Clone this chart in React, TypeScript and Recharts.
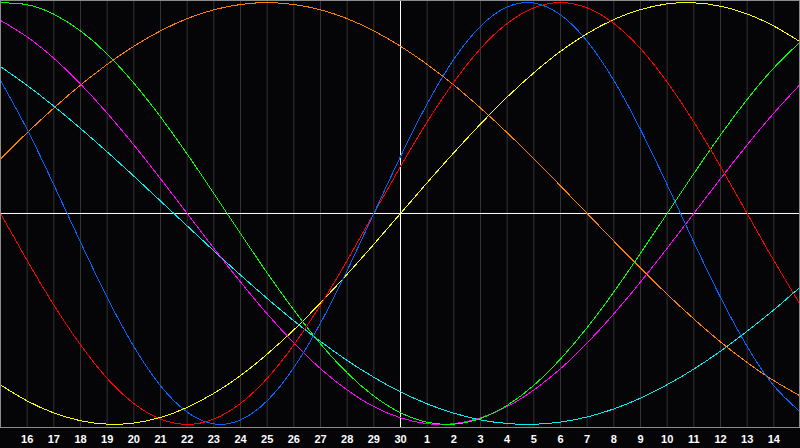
import React from 'react';
import { LineChart, Line, XAxis, YAxis, CartesianGrid, ReferenceLine } from 'recharts';

// day index 0..30 (day 15 of the month up to day 15 of the next)
const days = [0, 1, 2, 3, 4, 5, 6, 7, 8, 9, 10, 11, 12, 13, 14, 15, 16, 17, 18, 19, 20, 21, 22, 23, 24, 25, 26, 27, 28, 29, 30];
const tickDays = [1, 2, 3, 4, 5, 6, 7, 8, 9, 10, 11, 12, 13, 14, 15, 16, 17, 18, 19, 20, 21, 22, 23, 24, 25, 26, 27, 28, 29];
const dayLabels = ['16', '17', '18', '19', '20', '21', '22', '23', '24', '25', '26', '27', '28', '29', '30',
  '1', '2', '3', '4', '5', '6', '7', '8', '9', '10', '11', '12', '13', '14'];

// cycle values in % (-100..100)
const physical = [63.1, 39.8, 13.6, -13.6, -39.8, -63.1, -81.7, -94.2, -99.8, -97.9, -88.8, -73.1, -52.0, -27.0, 0,
  27.0, 52.0, 73.1, 88.8, 97.9, 99.8, 94.2, 81.7, 63.1, 39.8, 13.6, -13.6, -39.8, -63.1, -81.7, -94.2];
const emotional = [0, -22.3, -43.4, -62.3, -78.2, -90.1, -97.5, -100, -97.5, -90.1, -78.2, -62.3, -43.4, -22.3, 0,
  22.3, 43.4, 62.3, 78.2, 90.1, 97.5, 100, 97.5, 90.1, 78.2, 62.3, 43.4, 22.3, 0, -22.3, -43.4];
const intellectual = [99.9, 99.0, 94.5, 86.6, 75.6, 61.8, 45.8, 28.2, 9.5, -9.5, -28.2, -45.8, -61.8, -75.6, -86.6,
  -94.5, -99.0, -99.9, -97.2, -91.0, -81.5, -69.0, -54.1, -37.2, -18.9, 0, 18.9, 37.2, 54.1, 69.0, 81.5];
const intuitive = [91.6, 83.7, 73.6, 61.4, 47.6, 32.5, 16.5, 0, -16.5, -32.5, -47.6, -61.4, -73.6, -83.7, -91.6,
  -96.9, -99.7, -99.7, -96.9, -91.6, -83.7, -73.6, -61.4, -47.6, -32.5, -16.5, 0, 16.5, 32.5, 47.6, 61.4];
const aesthetic = [-81.3, -88.9, -94.6, -98.3, -99.9, -99.4, -96.7, -92.0, -85.3, -76.9, -66.7, -55.2, -42.4, -28.8, -14.6,
  0, 14.6, 28.8, 42.4, 55.2, 66.7, 76.9, 85.3, 92.0, 96.7, 99.4, 99.9, 98.3, 94.6, 88.9, 81.3];
const awareness = [25.9, 38.3, 50.0, 60.9, 70.7, 79.3, 86.6, 92.4, 96.6, 99.1, 100, 99.1, 96.6, 92.4, 86.6,
  79.3, 70.7, 60.9, 50.0, 38.3, 25.9, 13.1, 0, -13.1, -25.9, -38.3, -50.0, -60.9, -70.7, -79.3, -86.6];
const spiritual = [69.7, 60.7, 50.9, 40.3, 29.2, 17.7, 5.9, -5.9, -17.7, -29.2, -40.3, -50.9, -60.7, -69.7, -77.7,
  -84.6, -90.3, -94.7, -97.9, -99.6, -100.0, -98.9, -96.5, -92.7, -87.6, -81.2, -73.8, -65.3, -55.8, -45.7, -34.8];

const data = days.map((t, i) => ({
  t,
  physical: physical[i],
  emotional: emotional[i],
  intellectual: intellectual[i],
  intuitive: intuitive[i],
  aesthetic: aesthetic[i],
  awareness: awareness[i],
  spiritual: spiritual[i],
}));

const series = [
  { key: 'spiritual', color: '#00f0f0' },
  { key: 'awareness', color: '#ff8000' },
  { key: 'aesthetic', color: '#ffff00' },
  { key: 'intuitive', color: '#ff00ff' },
  { key: 'intellectual', color: '#00ff00' },
  { key: 'emotional', color: '#ff0000' },
  { key: 'physical', color: '#0066ff' },
];

export default function App() {
  return (
    <div style={{ position: 'absolute', left: 0, top: 0, width: 800, height: 448, background: '#050507', overflow: 'hidden' }}>
      <style>{'.bio-chart .recharts-line-curve { shape-rendering: crispEdges; }'}</style>
      <LineChart
        className="bio-chart"
        width={800.5}
        height={448}
        data={data}
        margin={{ top: 0.5, right: 0, bottom: 0.5, left: 0.5 }}
      >
        <CartesianGrid horizontal={false} stroke="#333333" />
        <XAxis
          type="number"
          dataKey="t"
          domain={[0, 30]}
          ticks={tickDays}
          interval={0}
          tickFormatter={(t) => dayLabels[t - 1]}
          axisLine={false}
          tickLine={false}
          tickSize={0}
          tickMargin={8}
          height={20}
          tick={{ fill: '#ffffff', fontSize: 11, fontWeight: 'bold', fontFamily: 'Liberation Sans' }}
        />
        <YAxis type="number" domain={[-101.5, 101]} hide />
        <ReferenceLine x={15} stroke="#ffffff" />
        <ReferenceLine y={0} stroke="#ffffff" />
        {series.map(s => (
          <Line
            key={s.key}
            dataKey={s.key}
            type="natural"
            stroke={s.color}
            strokeWidth={1}
            dot={false}
            isAnimationActive={false}
          />
        ))}
      </LineChart>
      <div style={{ position: 'absolute', left: 0, top: 0, width: 800, height: 428, boxSizing: 'border-box', border: '1px solid #8c8c8c', pointerEvents: 'none' }} />
    </div>
  );
}
